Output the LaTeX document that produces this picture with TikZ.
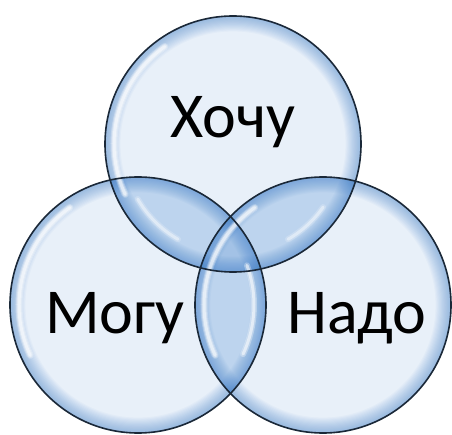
\documentclass[tikz,border=0pt]{standalone}
\usepackage{fontspec}
\setmainfont{Carlito}
\definecolor{bubin}{HTML}{E8F0F9}
\definecolor{lensin}{HTML}{BDD4EE}
\definecolor{triin}{HTML}{A3C2E6}
\definecolor{rimblue}{HTML}{3F7FCB}
\definecolor{bubline}{HTML}{1A2838}
\newcommand{\rimof}[2]{% #1 = centre, #2 = strength
  \foreach \i in {1,...,14}{%
    \pgfmathsetmacro\w{\i*2.2}%
    \draw[draw=rimblue, line width=\w pt, opacity=#2] (#1) circle (\R);}}
\begin{document}
\begin{tikzpicture}[x=1pt,y=-1pt,
  bubbleline/.style={draw=bubline, line width=1.6pt},
  shine/.style={draw=white, line cap=round},
  lbl/.style={font=\fontsize{64}{64}\selectfont, text=black, inner sep=0pt, anchor=base}]
\useasboundingbox (0,0) rectangle (452,435);
\fill[white] (0,0) rectangle (452,435);
\coordinate (ct) at (233,144);
\coordinate (cl) at (138,305);
\coordinate (cr) at (323,305);
\def\R{128}
% whole bubbles
\foreach \c in {ct,cl,cr}{%
  \begin{scope}
    \clip (\c) circle (\R);
    \fill[bubin] (\c) circle (\R);
    \rimof{\c}{0.04}
  \end{scope}}
% pairwise lenses
\begin{scope}\clip (ct) circle (\R); \clip (cl) circle (\R);
  \fill[lensin] (ct) circle (\R); \rimof{ct}{0.045} \rimof{cl}{0.045}
\end{scope}
\begin{scope}\clip (ct) circle (\R); \clip (cr) circle (\R);
  \fill[lensin] (ct) circle (\R); \rimof{ct}{0.045} \rimof{cr}{0.045}
\end{scope}
\begin{scope}\clip (cl) circle (\R); \clip (cr) circle (\R);
  \fill[lensin] (cl) circle (\R); \rimof{cl}{0.045} \rimof{cr}{0.045}
\end{scope}
% triple region
\begin{scope}\clip (ct) circle (\R); \clip (cl) circle (\R); \clip (cr) circle (\R);
  \fill[triin] (ct) circle (\R); \rimof{ct}{0.045} \rimof{cl}{0.045} \rimof{cr}{0.045}
\end{scope}
% highlights on the bubbles
\foreach \c in {ct,cl,cr}{%
  \begin{scope}
    \clip (\c) circle (\R);
    \foreach \lw/\op in {7/0.25,5/0.35,3/0.5}{%
      \draw[shine, line width=\lw pt, opacity=\op] (\c) ++(155:\R-9) arc[start angle=155, end angle=235, radius=\R-9];}
  \end{scope}}
% highlights in the lenses
\begin{scope}\clip (cl) circle (\R); \clip (cr) circle (\R);
  \foreach \lw/\op in {6/0.3,3/0.55}{%
    \draw[shine, line width=\lw pt, opacity=\op] (cl) ++(-20:\R-12) arc[start angle=-20, end angle=25, radius=\R-12];}
\end{scope}
\begin{scope}\clip (ct) circle (\R); \clip (cl) circle (\R);
  \foreach \lw/\op in {6/0.2,3/0.4}{%
    \draw[shine, line width=\lw pt, opacity=\op] (ct) ++(120:\R-18) arc[start angle=120, end angle=150, radius=\R-18];}
\end{scope}
\begin{scope}\clip (ct) circle (\R); \clip (cr) circle (\R);
  \foreach \lw/\op in {6/0.2,3/0.4}{%
    \draw[shine, line width=\lw pt, opacity=\op] (ct) ++(35:\R-18) arc[start angle=35, end angle=60, radius=\R-18];}
\end{scope}
% outlines
\draw[bubbleline] (ct) circle (\R);
\draw[bubbleline] (cl) circle (\R);
\draw[bubbleline] (cr) circle (\R);
% labels
\node[lbl] (want) at (233,138) {Хочу};
\node[lbl] (can) at (115,334) {Могу};
\node[lbl] (need) at (357,334) {Надо};
\end{tikzpicture}
\end{document}
